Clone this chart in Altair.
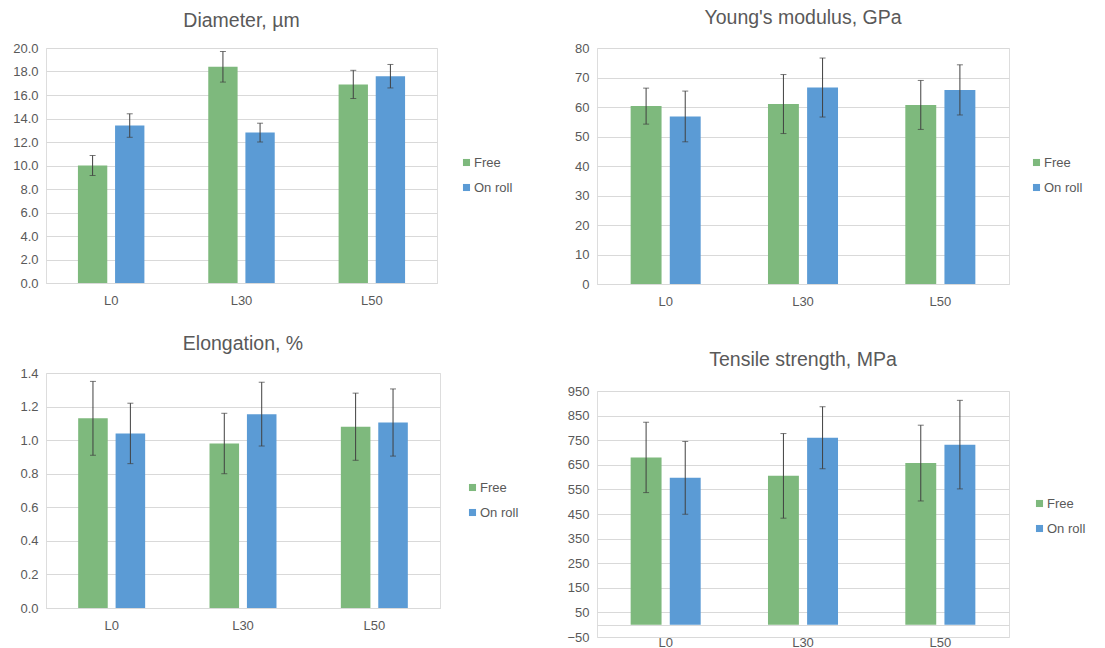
import altair as alt
import pandas as pd

# Sample groups and treatment series
categories = ["L0", "L30", "L50"]
series = ["Free", "On roll"]

# Diameter, µm
diam_free = [10.0, 18.4, 16.9]
diam_free_err = [0.85, 1.3, 1.2]
diam_roll = [13.4, 12.8, 17.6]
diam_roll_err = [1.0, 0.8, 1.0]

# Young's modulus, GPa
ym_free = [60.3, 61.0, 60.7]
ym_free_err = [6.1, 10.0, 8.3]
ym_roll = [56.8, 66.6, 65.8]
ym_roll_err = [8.6, 10.0, 8.5]

# Elongation, %
el_free = [1.13, 0.98, 1.08]
el_free_err = [0.22, 0.18, 0.20]
el_roll = [1.04, 1.155, 1.105]
el_roll_err = [0.18, 0.19, 0.20]

# Tensile strength, MPa
ts_free = [680, 605, 657]
ts_free_err = [143, 172, 154]
ts_roll = [597, 760, 732]
ts_roll_err = [148, 126, 180]

GREEN = "#7EB97D"
BLUE = "#5B9BD5"
GRID = "#D9D9D9"
TEXT = "#595959"
FONT = "Liberation Sans"


def frame(free, free_err, roll, roll_err):
    rows = []
    for i, c in enumerate(categories):
        rows.append({"cat": c, "series": "Free", "value": free[i],
                     "lo": free[i] - free_err[i], "hi": free[i] + free_err[i]})
        rows.append({"cat": c, "series": "On roll", "value": roll[i],
                     "lo": roll[i] - roll_err[i], "hi": roll[i] + roll_err[i]})
    return pd.DataFrame(rows)


def panel(title, df, width, height, domain, ticks, fmt, legend_xy,
          title_offset=12, x_offset=0, x_label_pad=11):
    x = alt.X("cat:N", sort=categories, title=None,
              scale=alt.Scale(paddingInner=0, paddingOuter=0),
              axis=alt.Axis(labelAngle=0, ticks=False, domainColor=GRID,
                            labelColor=TEXT, labelFontSize=13, labelFont=FONT,
                            labelPadding=x_label_pad, offset=x_offset))
    xo = alt.XOffset("series:N", sort=series,
                     scale=alt.Scale(paddingInner=0.21, paddingOuter=0.86))
    y_scale = alt.Scale(domain=domain, nice=False, zero=False)
    y_axis = alt.Axis(values=ticks, format=fmt, grid=True, gridColor=GRID,
                      domain=False, ticks=False, labelOverlap=False,
                      labelColor=TEXT, labelFontSize=13, labelFont=FONT,
                      labelPadding=8)
    color = alt.Color(
        "series:N", sort=series,
        scale=alt.Scale(domain=series, range=[GREEN, BLUE]),
        legend=alt.Legend(title=None, orient="none",
                          legendX=legend_xy[0], legendY=legend_xy[1],
                          symbolType="square", symbolSize=50,
                          symbolStrokeWidth=0, labelFontSize=13,
                          labelFont=FONT, labelColor=TEXT, rowPadding=11,
                          labelOffset=1, padding=0))
    base = alt.Chart(df)
    bars = base.mark_bar().encode(
        x=x, xOffset=xo,
        y=alt.Y("value:Q", title=None, scale=y_scale, axis=y_axis),
        color=color,
    )
    err_y = alt.Y("lo:Q", title=None, scale=y_scale, axis=y_axis)
    err_hi = alt.Y("hi:Q", title=None, scale=y_scale, axis=y_axis)
    rule = base.mark_rule(color="#404040", strokeWidth=1).encode(
        x=x, xOffset=xo, y=err_y, y2="hi:Q")
    cap_lo = base.mark_tick(color="#404040", thickness=1, size=6).encode(
        x=x, xOffset=xo, y=err_y)
    cap_hi = base.mark_tick(color="#404040", thickness=1, size=6).encode(
        x=x, xOffset=xo, y=err_hi)
    return alt.layer(bars, rule, cap_lo, cap_hi).properties(
        width=width, height=height,
        title=alt.Title(title, fontSize=19.5, font=FONT, color=TEXT,
                        fontWeight="normal", offset=title_offset),
    )


p1 = panel("Diameter, µm", frame(diam_free, diam_free_err, diam_roll, diam_roll_err),
           391, 235, [0, 20], [0, 2, 4, 6, 8, 10, 12, 14, 16, 18, 20], ".1f",
           (414, 108), title_offset=11)
p2 = panel("Young's modulus, GPa", frame(ym_free, ym_free_err, ym_roll, ym_roll_err),
           412, 236, [0, 80], [0, 10, 20, 30, 40, 50, 60, 70, 80], "d",
           (433, 108), title_offset=14)
p3 = panel("Elongation, %", frame(el_free, el_free_err, el_roll, el_roll_err),
           394, 235, [0, 1.4], [0, 0.2, 0.4, 0.6, 0.8, 1.0, 1.2, 1.4], ".1f",
           (420, 108), title_offset=13)
p4 = panel("Tensile strength, MPa", frame(ts_free, ts_free_err, ts_roll, ts_roll_err),
           412, 246, [-50, 950], [-50, 50, 150, 250, 350, 450, 550, 650, 750, 850, 950],
           "d", (436, 106), title_offset=15, x_offset=-12, x_label_pad=11)

indep = dict(x="independent", y="independent", xOffset="independent",
             color="independent")
left = alt.vconcat(p1, p3, spacing=25).resolve_scale(**indep)
right = alt.vconcat(p2, p4, spacing=40).resolve_scale(**indep)
chart = alt.hconcat(left, right, spacing=46).resolve_scale(**indep).properties(
    padding={"left": 12, "top": 7, "right": 5, "bottom": 0}
).configure_view(stroke=None).configure(background="white")

chart.save("out.html", embed_options={"renderer": "svg", "actions": False})
